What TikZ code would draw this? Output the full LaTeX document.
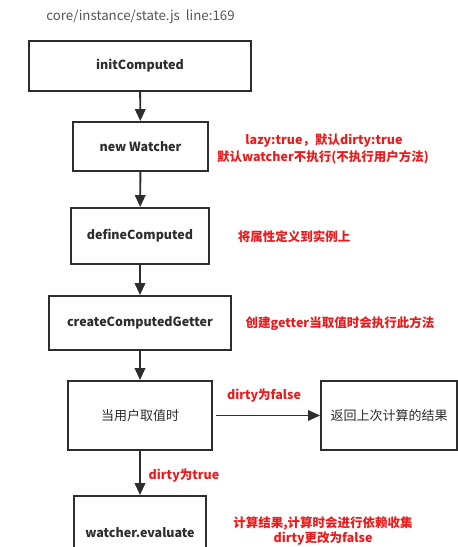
\documentclass[tikz,border=0pt]{standalone}
\usepackage{fontspec}
\setmainfont{Noto Sans CJK SC}
\usetikzlibrary{arrows.meta}
\definecolor{boxgray}{RGB}{45,45,45}
\definecolor{notered}{RGB}{232,28,28}
\definecolor{pathgray}{RGB}{85,85,85}

\begin{document}
\begin{tikzpicture}[x=1pt,y=-1pt,
    box/.style={draw=boxgray,line width=1.9pt,fill=white,inner sep=0pt,
        font=\fontsize{12.5}{15}\selectfont\bfseries,text=boxgray},
    plainbox/.style={box,font=\fontsize{13}{15}\selectfont},
    flow/.style={draw=boxgray,line width=1.9pt,-{Triangle[length=12pt,width=10.5pt]}},
    note/.style={text=notered,font=\fontsize{12.5}{15}\selectfont\bfseries,inner sep=0pt,align=center}]
        % pixel coordinates, y downwards
        \useasboundingbox (0,0) rectangle (458,547);
        \clip (0,0) rectangle (458,547);

        \node[text=pathgray,font=\fontsize{13.3}{15}\selectfont,inner sep=0pt] (path) at (140.5,17) {core/instance/state.js\ \ line:169};

        % main column
        \node[box,minimum width=222pt,minimum height=50pt] (init) at (140,66) {initComputed};
        \node[box,minimum width=135pt,minimum height=49pt] (watcher) at (140.5,146.5) {new Watcher};
        \node[box,minimum width=138pt,minimum height=56pt] (define) at (140,236) {defineComputed};
        \node[box,minimum width=182pt,minimum height=54pt] (getter) at (140,323) {createComputedGetter};
        \node[plainbox,minimum width=144pt,minimum height=69pt] (user) at (140,415.5) {当用户取值时};
        \node[plainbox,minimum width=136pt,minimum height=69pt] (result) at (389,415.5) {返回上次计算的结果};
        \node[box,minimum width=132pt,minimum height=74pt] (evaluate) at (140,533) {watcher.evaluate};

        \draw[flow] (init) -- (watcher);
        \draw[flow] (watcher) -- (define);
        \draw[flow] (define) -- (getter);
        \draw[flow] (getter) -- (user);
        \draw[flow] (user) -- (evaluate);
        \draw[flow,shorten <=3pt] (user) -- (result);

        % notes
        \node[note] (lazy) at (324,141) {lazy:true，默认dirty:true};
        \node[note] (lazy2) at (323,157) {默认watcher不执行(不执行用户方法)};
        \node[note] (defnote) at (294,237) {将属性定义到实例上};
        \node[note] (getnote) at (340,324) {创建getter当取值时会执行此方法};
        \node[note] (falsenote) at (264,396) {dirty为false};
        \node[note] (truenote) at (184,476) {dirty为true};
        \node[note] (evalnote) at (323,524) {计算结果,计算时会进行依赖收集};
        \node[note] (evalnote2) at (323,538.5) {dirty更改为false};
\end{tikzpicture}
\end{document}
